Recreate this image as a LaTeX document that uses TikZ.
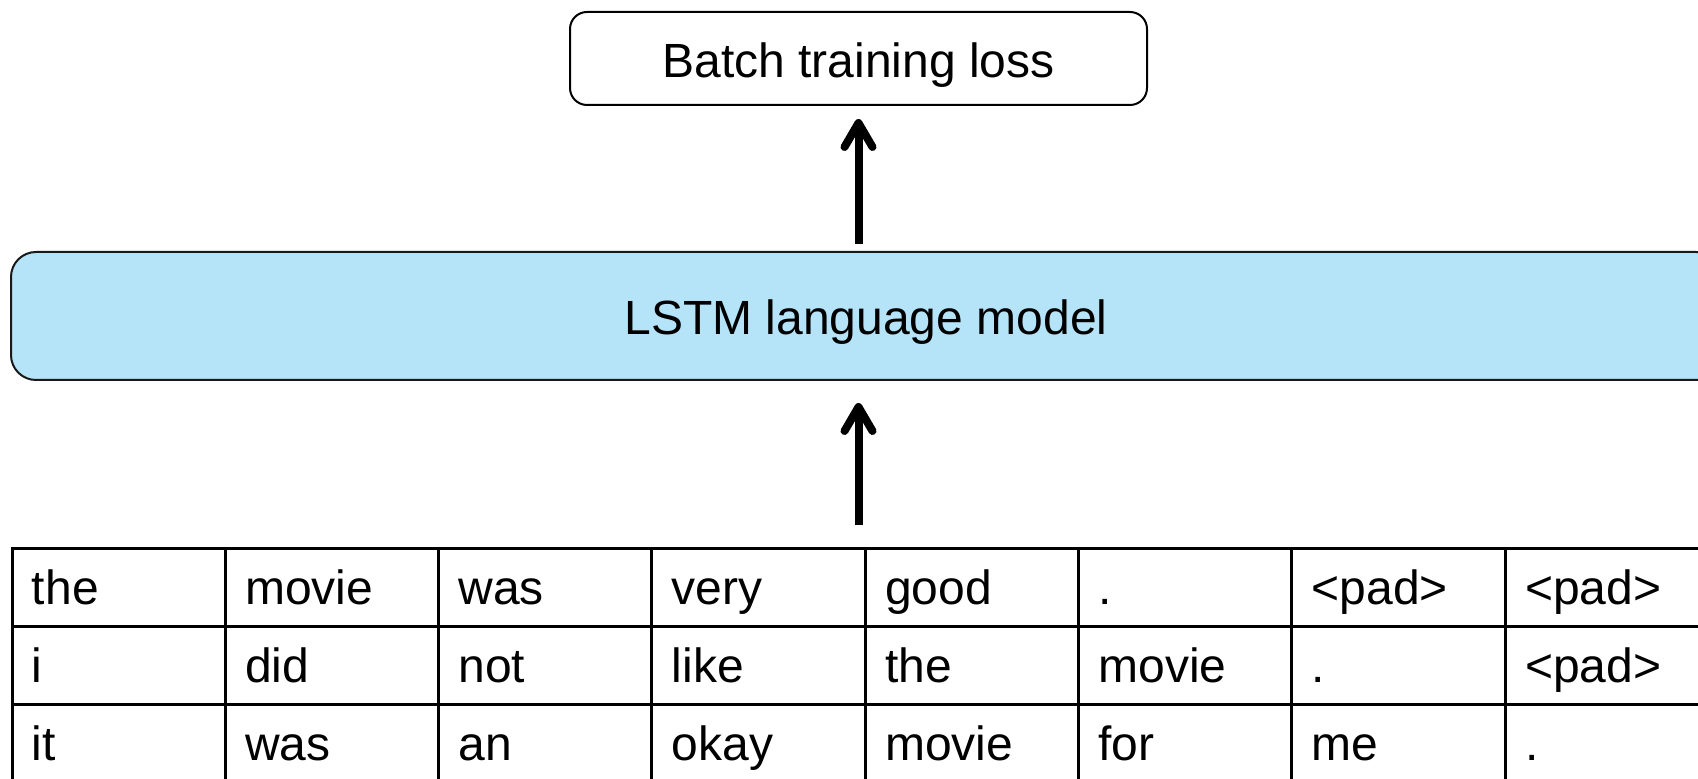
\documentclass[tikz,border=0pt]{standalone}
\usepackage{fontspec}
\setmainfont{Liberation Sans}
\usetikzlibrary{arrows.meta}
\definecolor{lstmblue}{RGB}{181,227,248}
\begin{document}
\begin{tikzpicture}[x=0.5pt,y=-0.5pt,
  every node/.style={font=\fontsize{24}{28}\selectfont},
  lossbox/.style={draw=black, line width=1pt, rounded corners=8.5pt,
    minimum width=288.5pt, minimum height=46.5pt, inner sep=0pt,
    text height=22pt, text depth=3pt},
  modelbox/.style={draw=black!90, line width=1pt, fill=lstmblue,
    rounded corners=12.5pt, minimum width=855pt, minimum height=64pt,
    inner sep=0pt, text height=22pt, text depth=3pt},
  cell/.style={draw=black, line width=1.5pt, minimum height=39pt,
    inner xsep=10pt, inner ysep=0pt, text width=86.65pt, align=left,
    text height=20pt, text depth=3pt},
  flow/.style={line width=4pt, -{Straight Barb[length=12pt,width=14pt,round]}}
]
\useasboundingbox (0,0) rectangle (1698,779);
\clip (0,0) rectangle (1698,779);

% output of the model
\node[lossbox] (loss) at (858.5,58.5) {Batch training loss};

% the model itself
\node[modelbox] (lstm) at (866,316) {LSTM language model};

% padded batch of token sequences
\foreach \row [count=\r] in {
    {the,movie,was,very,good,.,<pad>,<pad>},
    {i,did,not,like,the,movie,.,<pad>},
    {it,was,an,okay,movie,for,me,.}} {
  \foreach \w [count=\c] in \row {
    \node[cell] (c-\r-\c) at ({12+213.3*(\c-0.5)},{549+78*(\r-0.5)}) {\w};
  }
}

% data flow
\draw[flow, shorten <=11pt, shorten >=11pt]
  (loss.south |- c-1-4.north) -- (loss.south |- lstm.south);
\draw[flow, shorten <=3.5pt, shorten >=6.5pt]
  (loss.south |- lstm.north) -- (loss.south);
\end{tikzpicture}
\end{document}
